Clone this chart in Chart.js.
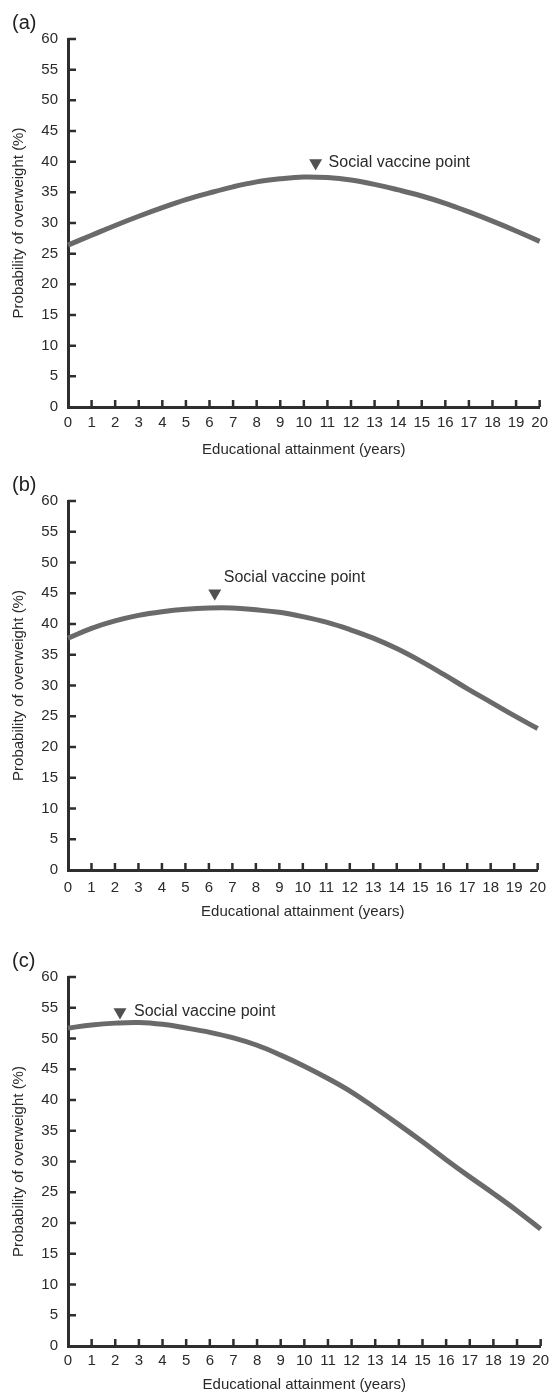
<!DOCTYPE html>
<html>
<head>
<meta charset="utf-8">
<script src="https://cdn.jsdelivr.net/npm/chart.js@4.4.1/dist/chart.umd.min.js"></script>
<style>
  body { margin: 0; background: #fff; }
  .panel { position: absolute; left: 0; width: 555px; }
</style>
</head>
<body>
<canvas id="chartA" class="panel" style="top:0px" width="555" height="465"></canvas>
<canvas id="chartB" class="panel" style="top:465px" width="555" height="470"></canvas>
<canvas id="chartC" class="panel" style="top:935px" width="555" height="460"></canvas>
<script>
// years of education
const years = [0, 1, 2, 3, 4, 5, 6, 7, 8, 9, 10, 11, 12, 13, 14, 15, 16, 17, 18, 19, 20];

// probability of overweight (%)
const overweightA = [26.4, 28.0, 29.6, 31.1, 32.5, 33.8, 34.9, 35.9, 36.7, 37.2, 37.5, 37.4, 37.0, 36.3, 35.4, 34.4, 33.2, 31.8, 30.3, 28.7, 27.0];
const overweightB = [37.7, 39.3, 40.5, 41.4, 42.0, 42.4, 42.6, 42.6, 42.3, 41.9, 41.2, 40.3, 39.1, 37.7, 36.0, 34.0, 31.8, 29.5, 27.3, 25.1, 23.0];
const overweightC = [51.7, 52.2, 52.5, 52.6, 52.3, 51.7, 51.0, 50.1, 48.9, 47.3, 45.5, 43.5, 41.3, 38.7, 36.0, 33.2, 30.3, 27.5, 24.8, 22.0, 19.0];

// social vaccine point markers (x = years, y = %)
const vaccineX = [10.5, 6.25, 2.2];
const vaccineY = [39.8, 45.0, 54.3];

const panelLabels = ['(a)', '(b)', '(c)'];
const yTicks = [0, 5, 10, 15, 20, 25, 30, 35, 40, 45, 50, 55, 60];

Chart.defaults.font.family = '"Liberation Sans", Arial, Helvetica, sans-serif';
Chart.defaults.color = '#2a2a2a';

const inkColor = '#2e2e2e';

// tick marks point into the plot, plus panel letter and marker note
const extrasPlugin = {
    id: 'extras',
    afterDraw(chart, args, opts) {
        const { ctx, chartArea } = chart;
        const xs = chart.scales.x;
        const ys = chart.scales.y;
        ctx.save();
        ctx.strokeStyle = inkColor;
        ctx.lineWidth = 2.5;
        ctx.beginPath();
        xs.ticks.forEach(t => {
            if (t.value === 0) return;
            const px = xs.getPixelForValue(t.value);
            ctx.moveTo(px, chartArea.bottom);
            ctx.lineTo(px, chartArea.bottom - 7);
        });
        ys.ticks.forEach(t => {
            if (t.value === 0) return;
            const py = ys.getPixelForValue(t.value);
            ctx.moveTo(chartArea.left, py);
            ctx.lineTo(chartArea.left + 8, py);
        });
        ctx.stroke();

        // panel letter
        ctx.fillStyle = '#222';
        ctx.font = '20px "Liberation Sans", Arial, sans-serif';
        ctx.textAlign = 'left';
        ctx.textBaseline = 'middle';
        ctx.fillText(opts.letter, 12, chartArea.top - 16);

        // note next to the marker
        const mx = xs.getPixelForValue(opts.mx);
        const my = ys.getPixelForValue(opts.my);
        ctx.font = '16px "Liberation Sans", Arial, sans-serif';
        ctx.fillStyle = '#2a2a2a';
        ctx.fillText('Social vaccine point', mx + opts.dx, my + opts.dy);
        ctx.restore();
    }
};

const makePanel = (id, values, idx, layout) => {
    const ctx = document.getElementById(id).getContext('2d');
    const points = years.map((x, i) => ({ x: x, y: values[i] }));
    const xHeight = layout.canvasH - layout.top - layout.plotH;

    return new Chart(ctx, {
        type: 'line',
        data: {
            datasets: [
                {
                    data: points,
                    borderColor: '#6a6a6a',
                    borderWidth: 5,
                    pointRadius: 0,
                    tension: 0.4,
                    borderCapStyle: 'butt',
                    clip: false,
                },
                {
                    data: [{ x: vaccineX[idx], y: vaccineY[idx] }],
                    showLine: false,
                    pointStyle: 'triangle',
                    rotation: 180,
                    pointRadius: 7.5,
                    backgroundColor: '#505050',
                    borderColor: '#505050',
                    borderWidth: 0,
                },
            ],
        },
        options: {
            responsive: false,
            animation: false,
            events: [],
            layout: { padding: { left: 0, right: 11, top: layout.top, bottom: 0 } },
            plugins: {
                legend: { display: false },
                tooltip: { enabled: false },
                extras: { letter: panelLabels[idx], mx: vaccineX[idx], my: vaccineY[idx], dx: layout.dx, dy: layout.dy },
            },
            scales: {
                x: {
                    type: 'linear',
                    min: 0,
                    max: 20,
                    ticks: { stepSize: 1, autoSkip: false, maxRotation: 0, padding: layout.tickPad, font: { size: 15 }, color: '#2a2a2a' },
                    grid: { display: false, drawTicks: false },
                    border: { display: true, color: inkColor, width: 3 },
                    title: {
                        display: true,
                        text: 'Educational attainment (years)',
                        font: { size: 15 },
                        color: '#2a2a2a',
                        padding: { top: 0, bottom: layout.titlePad },
                    },
                    afterFit: (scale) => { scale.height = xHeight; },
                },
                y: {
                    min: 0,
                    max: 60,
                    afterBuildTicks: (scale) => { scale.ticks = yTicks.map(v => ({ value: v })); },
                    ticks: { padding: 10, font: { size: 15 }, color: '#2a2a2a' },
                    grid: { display: false, drawTicks: false },
                    border: { display: true, color: inkColor, width: 3 },
                    title: {
                        display: true,
                        text: 'Probability of overweight (%)',
                        font: { size: 15 },
                        color: '#2a2a2a',
                        padding: { top: 10, bottom: 0 },
                    },
                    afterFit: (scale) => { scale.width = 68; },
                },
            },
        },
        plugins: [extrasPlugin],
    });
};

makePanel('chartA', overweightA, 0, { canvasH: 465, top: 39, plotH: 368, tickPad: 7, titlePad: 6, dx: 13, dy: 0 });
makePanel('chartB', overweightB, 1, { canvasH: 470, top: 36, plotH: 369, tickPad: 9, titlePad: 14, dx: 9, dy: -16 });
makePanel('chartC', overweightC, 2, { canvasH: 460, top: 42, plotH: 369, tickPad: 6, titlePad: 1, dx: 14, dy: 0 });
</script>
</body>
</html>
